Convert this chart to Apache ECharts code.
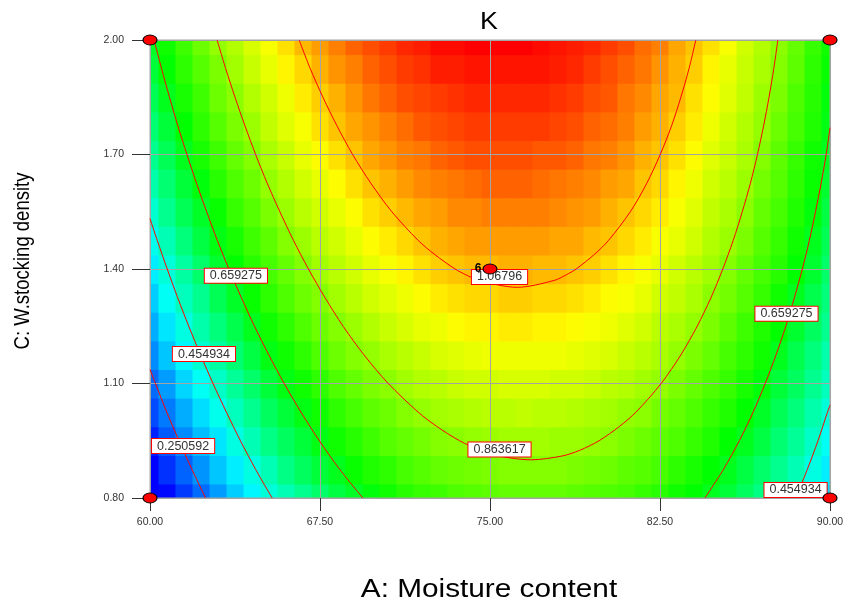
<!DOCTYPE html>
<html>
<head>
<meta charset="utf-8">
<title>K</title>
<script src="https://cdn.jsdelivr.net/npm/echarts@6/dist/echarts.min.js"></script>
<style>
html, body { margin: 0; padding: 0; background: #ffffff; }
#chart { width: 846px; height: 605px; }
</style>
</head>
<body>
<div id="chart"></div>
<script>
// Grid columns: A, moisture content
const moistureNodes = [60.00, 60.75, 61.50, 62.25, 63.00, 63.75, 64.50, 65.25, 66.00, 66.75,
  67.50, 68.25, 69.00, 69.75, 70.50, 71.25, 72.00, 72.75, 73.50, 74.25, 75.00, 75.75, 76.50,
  77.25, 78.00, 78.75, 79.50, 80.25, 81.00, 81.75, 82.50, 83.25, 84.00, 84.75, 85.50, 86.25,
  87.00, 87.75, 88.50, 89.25, 90.00];

// Grid rows: C, W.stocking density
const densityNodes = [0.800, 0.875, 0.950, 1.025, 1.100, 1.175, 1.250, 1.325, 1.400, 1.475,
  1.550, 1.625, 1.700, 1.775, 1.850, 1.925, 2.000];

// Response K, one row per density level (bottom to top), one value per moisture column
const kRows = [
  [0.04,0.11,0.17,0.23,0.29,0.35,0.40,0.45,0.49,0.53,0.57,0.61,0.64,0.67,0.70,0.73,0.75,0.76,0.78,0.79,0.80,0.81,0.81,0.81,0.81,0.80,0.79,0.78,0.77,0.75,0.73,0.70,0.68,0.65,0.62,0.58,0.54,0.50,0.45,0.41,0.36],
  [0.09,0.16,0.22,0.28,0.34,0.39,0.44,0.49,0.54,0.58,0.62,0.65,0.69,0.72,0.74,0.77,0.79,0.81,0.82,0.83,0.84,0.85,0.85,0.85,0.85,0.84,0.83,0.82,0.80,0.79,0.77,0.74,0.71,0.68,0.65,0.61,0.57,0.53,0.49,0.44,0.39],
  [0.14,0.21,0.27,0.33,0.38,0.44,0.49,0.54,0.58,0.62,0.66,0.70,0.73,0.76,0.79,0.81,0.83,0.85,0.86,0.87,0.88,0.89,0.89,0.89,0.88,0.88,0.87,0.86,0.84,0.82,0.80,0.78,0.75,0.72,0.68,0.65,0.61,0.56,0.52,0.47,0.42],
  [0.19,0.25,0.31,0.37,0.43,0.48,0.53,0.58,0.62,0.66,0.70,0.74,0.77,0.80,0.82,0.85,0.87,0.89,0.90,0.91,0.92,0.92,0.93,0.92,0.92,0.91,0.90,0.89,0.87,0.86,0.83,0.81,0.78,0.75,0.72,0.68,0.64,0.59,0.55,0.50,0.45],
  [0.23,0.29,0.36,0.42,0.47,0.52,0.57,0.62,0.66,0.70,0.74,0.78,0.81,0.84,0.86,0.89,0.91,0.92,0.94,0.95,0.95,0.96,0.96,0.96,0.95,0.95,0.94,0.92,0.91,0.89,0.87,0.84,0.81,0.78,0.75,0.71,0.67,0.62,0.58,0.53,0.48],
  [0.27,0.34,0.40,0.46,0.51,0.56,0.61,0.66,0.70,0.74,0.78,0.82,0.85,0.87,0.90,0.92,0.94,0.96,0.97,0.98,0.99,0.99,0.99,0.99,0.99,0.98,0.97,0.96,0.94,0.92,0.90,0.87,0.84,0.81,0.77,0.74,0.70,0.65,0.60,0.55,0.50],
  [0.31,0.38,0.44,0.50,0.55,0.60,0.65,0.70,0.74,0.78,0.82,0.85,0.88,0.91,0.94,0.96,0.98,0.99,1.01,1.02,1.02,1.03,1.03,1.02,1.02,1.01,1.00,0.99,0.97,0.95,0.92,0.90,0.87,0.84,0.80,0.76,0.72,0.68,0.63,0.58,0.53],
  [0.35,0.42,0.48,0.53,0.59,0.64,0.69,0.74,0.78,0.82,0.85,0.89,0.92,0.95,0.97,0.99,1.01,1.03,1.04,1.05,1.05,1.06,1.06,1.05,1.05,1.04,1.03,1.01,1.00,0.98,0.95,0.93,0.90,0.86,0.83,0.79,0.75,0.70,0.65,0.60,0.55],
  [0.39,0.45,0.51,0.57,0.63,0.68,0.73,0.77,0.81,0.85,0.89,0.92,0.95,0.98,1.00,1.02,1.04,1.06,1.07,1.08,1.08,1.09,1.09,1.08,1.08,1.07,1.06,1.04,1.02,1.00,0.98,0.95,0.92,0.89,0.85,0.81,0.77,0.73,0.68,0.63,0.57],
  [0.43,0.49,0.55,0.61,0.66,0.71,0.76,0.80,0.85,0.88,0.92,0.95,0.98,1.01,1.03,1.05,1.07,1.09,1.10,1.11,1.11,1.11,1.11,1.11,1.10,1.10,1.08,1.07,1.05,1.03,1.00,0.98,0.95,0.91,0.88,0.84,0.79,0.75,0.70,0.65,0.59],
  [0.46,0.53,0.59,0.64,0.69,0.75,0.79,0.84,0.88,0.92,0.95,0.98,1.01,1.04,1.06,1.08,1.10,1.11,1.13,1.13,1.14,1.14,1.14,1.14,1.13,1.12,1.11,1.09,1.07,1.05,1.03,1.00,0.97,0.93,0.90,0.86,0.81,0.77,0.72,0.67,0.61],
  [0.50,0.56,0.62,0.67,0.73,0.78,0.82,0.87,0.91,0.95,0.98,1.01,1.04,1.07,1.09,1.11,1.13,1.14,1.15,1.16,1.17,1.17,1.17,1.16,1.15,1.14,1.13,1.11,1.10,1.07,1.05,1.02,0.99,0.95,0.92,0.88,0.83,0.79,0.74,0.69,0.63],
  [0.53,0.59,0.65,0.71,0.76,0.81,0.85,0.90,0.94,0.98,1.01,1.04,1.07,1.10,1.12,1.14,1.15,1.17,1.18,1.19,1.19,1.19,1.19,1.18,1.18,1.17,1.15,1.14,1.12,1.09,1.07,1.04,1.01,0.97,0.94,0.90,0.85,0.80,0.75,0.70,0.65],
  [0.56,0.62,0.68,0.74,0.79,0.84,0.88,0.93,0.97,1.00,1.04,1.07,1.10,1.12,1.14,1.16,1.18,1.19,1.20,1.21,1.21,1.21,1.21,1.21,1.20,1.19,1.17,1.16,1.14,1.11,1.09,1.06,1.03,0.99,0.95,0.91,0.87,0.82,0.77,0.72,0.66],
  [0.59,0.65,0.71,0.76,0.82,0.86,0.91,0.95,0.99,1.03,1.06,1.09,1.12,1.15,1.17,1.19,1.20,1.21,1.22,1.23,1.23,1.23,1.23,1.23,1.22,1.21,1.19,1.18,1.15,1.13,1.10,1.08,1.04,1.01,0.97,0.93,0.88,0.84,0.78,0.73,0.67],
  [0.62,0.68,0.74,0.79,0.84,0.89,0.94,0.98,1.02,1.05,1.09,1.12,1.14,1.17,1.19,1.21,1.22,1.24,1.24,1.25,1.25,1.25,1.25,1.25,1.24,1.23,1.21,1.19,1.17,1.15,1.12,1.09,1.06,1.02,0.98,0.94,0.90,0.85,0.80,0.74,0.69],
  [0.64,0.70,0.76,0.82,0.87,0.91,0.96,1.00,1.04,1.08,1.11,1.14,1.17,1.19,1.21,1.23,1.24,1.26,1.26,1.27,1.27,1.27,1.27,1.26,1.25,1.24,1.23,1.21,1.19,1.16,1.14,1.10,1.07,1.04,1.00,0.95,0.91,0.86,0.81,0.75,0.70]
];

// Contour levels of K
const contourLevels = [0.250592, 0.454934, 0.659275, 0.863617, 1.06796];

// Contour traces as [A, C] points
const contourL0Left = [[60.00,1.137],[60.24,1.100],[60.74,1.025],[61.28,0.950],[61.85,0.875],[62.45,0.800]];
const contourL1Left = [[60.00,1.532],[60.32,1.475],[60.76,1.400],[61.22,1.325],[61.71,1.250],[62.23,1.175],
  [62.78,1.100],[63.37,1.025],[63.99,0.950],[64.66,0.875],[65.39,0.800]];
const contourL1Right = [[88.49,0.800],[89.00,0.875],[89.47,0.950],[89.89,1.025],[90.00,1.043]];
const contourL2Left = [[60.18,2.000],[60.51,1.925],[60.86,1.850],[61.23,1.775],[61.63,1.700],[62.05,1.625],
  [62.50,1.550],[62.97,1.475],[63.48,1.400],[64.03,1.325],[64.61,1.250],[65.24,1.175],[65.92,1.100],
  [66.66,1.025],[67.47,0.950],[68.37,0.875],[69.39,0.800]];
const contourL2Right = [[84.48,0.800],[85.30,0.875],[86.00,0.950],[86.61,1.025],[87.14,1.100],[87.62,1.175],
  [88.05,1.250],[88.43,1.325],[88.78,1.400],[89.09,1.475],[89.36,1.550],[89.61,1.625],[89.83,1.700],[90.00,1.770]];
const contourL3 = [[62.96,2.000],[63.34,1.925],[63.75,1.850],[64.19,1.775],[64.66,1.700],[65.17,1.625],
  [65.73,1.550],[66.33,1.475],[66.99,1.400],[67.72,1.325],[68.52,1.250],[69.44,1.175],[70.51,1.100],
  [71.83,1.025],[72.64,0.988],[73.66,0.950],[74.58,0.925],[75.39,0.910],[76.80,0.900],[78.18,0.910],
  [78.96,0.925],[79.81,0.950],[80.72,0.988],[81.44,1.025],[82.55,1.100],[83.42,1.175],[84.14,1.250],
  [84.75,1.325],[85.27,1.400],[85.73,1.475],[86.13,1.550],[86.49,1.625],[86.80,1.700],[87.07,1.775],
  [87.31,1.850],[87.52,1.925],[87.70,2.000]];
const contourL4 = [[66.58,2.000],[67.07,1.925],[67.63,1.850],[68.25,1.775],[68.94,1.700],[69.74,1.625],
  [70.67,1.550],[71.83,1.475],[72.56,1.438],[73.46,1.400],[73.93,1.385],[74.51,1.370],[76.20,1.352],
  [77.83,1.370],[78.37,1.385],[78.80,1.400],[79.60,1.438],[80.23,1.475],[81.19,1.550],[81.92,1.625],
  [82.51,1.700],[83.01,1.775],[83.42,1.850],[83.78,1.925],[84.08,2.000]];
const contourTraces = [contourL0Left, contourL1Left, contourL1Right, contourL2Left, contourL2Right, contourL3, contourL4];

// Contour value tags: position and level index
const tagA = [63.79, 62.38, 61.46, 75.42, 75.42, 88.08, 88.48];
const tagC = [1.382, 1.177, 0.936, 1.379, 0.927, 1.283, 0.821];
const tagLevel = [2, 1, 0, 4, 3, 2, 1];

// Design points and their replicate counts
const designA = [60, 90, 60, 90, 75];
const designC = [0.8, 0.8, 2.0, 2.0, 1.4];
const designRuns = [1, 1, 1, 1, 6];

// Axis ticks
const moistureTicks = [60, 67.5, 75, 82.5, 90];
const densityTicks = [0.8, 1.1, 1.4, 1.7, 2.0];

const FONT = 'Liberation Sans, Arial, sans-serif';

const heatData = [];
kRows.forEach((row, j) => {
  row.forEach((k, i) => heatData.push([moistureNodes[i], densityNodes[j], k]));
});
const allK = heatData.map(d => d[2]);
const kMin = Math.min(...allK);
const kMax = Math.max(...allK);
const halfA = (moistureNodes[1] - moistureNodes[0]) / 2;
const halfC = (densityNodes[1] - densityNodes[0]) / 2;

// Blue-cyan-green-yellow-red shading; anchors are K values where each hue is pure
const colorAnchors = [
  [0.10, [0, 0, 255]],
  [0.41, [0, 255, 255]],
  [0.68, [0, 255, 0]],
  [1.01, [255, 255, 0]],
  [1.27, [255, 0, 0]]
];
function shadeFor(v) {
  if (v <= colorAnchors[0][0]) return colorAnchors[0][1];
  for (let i = 1; i < colorAnchors.length; i++) {
    const [v1, c1] = colorAnchors[i];
    const [v0, c0] = colorAnchors[i - 1];
    if (v <= v1) {
      const t = (v - v0) / (v1 - v0);
      return c0.map((x, n) => Math.round(x + (c1[n] - x) * t));
    }
  }
  return colorAnchors[colorAnchors.length - 1][1];
}
const rampSteps = 96;
const rampColors = [];
for (let s = 0; s <= rampSteps; s++) {
  const c = shadeFor(kMin + (kMax - kMin) * s / rampSteps);
  rampColors.push('rgb(' + c.join(',') + ')');
}

const chart = echarts.init(document.getElementById('chart'), null, { renderer: 'canvas' });

const contourSeries = contourTraces.map(pts => ({
  type: 'line',
  data: pts,
  showSymbol: false,
  symbol: 'none',
  smooth: 0.3,
  clip: true,
  silent: true,
  z: 3,
  lineStyle: { color: '#ff0000', width: 1 }
}));

chart.setOption({
  animation: false,
  textStyle: { fontFamily: FONT },
  grid: {
    left: 150, right: 16, top: 40, bottom: 107,
    show: true, borderColor: '#a4a4a4', borderWidth: 1, backgroundColor: 'transparent',
    outerBoundsMode: 'none'
  },
  visualMap: {
    type: 'continuous',
    show: false,
    seriesIndex: 0,
    dimension: 2,
    min: kMin,
    max: kMax,
    inRange: { color: rampColors }
  },
  xAxis: {
    type: 'value',
    min: 60, max: 90,
    axisLine: { show: true, lineStyle: { color: '#a4a4a4' } },
    axisTick: { show: true, length: 13, customValues: moistureTicks, lineStyle: { color: '#333' } },
    axisLabel: {
      customValues: moistureTicks, margin: 19, fontSize: 10.5, color: '#333', fontFamily: FONT,
      formatter: v => Number(v).toFixed(2)
    },
    splitLine: { show: true, lineStyle: { color: '#a4a4a4', width: 1 } }
  },
  yAxis: {
    type: 'value',
    min: 0.8, max: 2.0,
    axisLine: { show: true, lineStyle: { color: '#a4a4a4' } },
    axisTick: { show: true, length: 18, customValues: densityTicks, lineStyle: { color: '#333' } },
    axisLabel: {
      customValues: densityTicks, margin: 26, fontSize: 10.5, color: '#333', fontFamily: FONT,
      formatter: v => Number(v).toFixed(2)
    },
    splitLine: { show: true, lineStyle: { color: '#a4a4a4', width: 1 } }
  },
  graphic: [
    {
      type: 'text', x: 489, y: 22, scaleX: 1.12, silent: true,
      style: { text: 'K', fontSize: 24, fontFamily: FONT, fill: '#000', align: 'center', verticalAlign: 'middle' }
    },
    {
      type: 'text', x: 489, y: 590, scaleX: 1.19, silent: true,
      style: { text: 'A: Moisture content', fontSize: 25, fontFamily: FONT, fill: '#000', align: 'center', verticalAlign: 'middle' }
    },
    {
      type: 'text', x: 23, y: 261, rotation: Math.PI / 2, scaleY: 1.19, silent: true,
      style: { text: 'C: W.stocking density', fontSize: 18.5, fontFamily: FONT, fill: '#000', align: 'center', verticalAlign: 'middle' }
    }
  ],
  series: [
    {
      type: 'custom',
      z: -1,
      silent: true,
      data: heatData,
      encode: { x: 0, y: 1 },
      renderItem(params, api) {
        const a = api.value(0), c = api.value(1);
        const tl = api.coord([a - halfA, c + halfC]);
        const br = api.coord([a + halfA, c - halfC]);
        const cs = params.coordSys;
        const rect = echarts.graphic.clipRectByRect(
          { x: tl[0], y: tl[1], width: br[0] - tl[0] + 0.8, height: br[1] - tl[1] + 0.8 },
          { x: cs.x, y: cs.y, width: cs.width, height: cs.height }
        );
        return rect && { type: 'rect', shape: rect, style: { fill: api.visual('color') } };
      }
    },
    ...contourSeries,
    {
      type: 'scatter',
      z: 4,
      silent: true,
      symbolSize: 1,
      itemStyle: { color: 'rgba(0,0,0,0)', opacity: 1 },
      data: tagA.map((a, i) => [a, tagC[i], tagLevel[i]]),
      label: {
        show: true,
        position: 'inside',
        formatter: p => String(contourLevels[p.value[2]]),
        fontSize: 12.5,
        fontFamily: FONT,
        color: '#333',
        backgroundColor: '#ffffff',
        borderColor: '#ff0000',
        borderWidth: 1,
        padding: [1, 5, 0, 5],
        lineHeight: 13
      }
    },
    {
      type: 'scatter',
      z: 5,
      silent: true,
      clip: false,
      symbol: 'circle',
      symbolSize: [14, 10],
      itemStyle: { color: '#ff0000', borderColor: '#000000', borderWidth: 1, opacity: 1 },
      data: designA.map((a, i) => ({
        value: [a, designC[i], designRuns[i]],
        label: { show: designRuns[i] > 1 }
      })),
      label: {
        position: 'left',
        distance: 1,
        formatter: p => String(p.value[2]),
        fontSize: 12,
        fontWeight: 'bold',
        color: '#000'
      }
    }
  ]
});
</script>
</body>
</html>
